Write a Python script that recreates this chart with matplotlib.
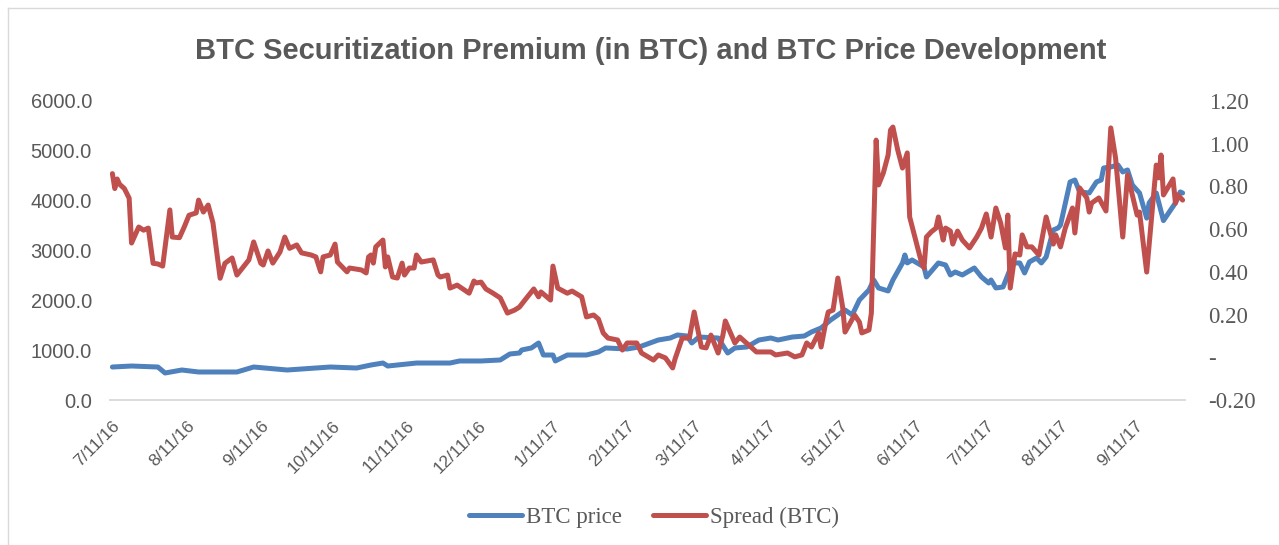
import matplotlib.pyplot as plt
import matplotlib.transforms as mtransforms
from matplotlib.ticker import FuncFormatter, MultipleLocator
import pandas as pd

price_dates = [
    '2016-07-11', '2016-07-19', '2016-07-30', '2016-08-02', '2016-08-09', '2016-08-16',
    '2016-09-01', '2016-09-08', '2016-09-22', '2016-10-10', '2016-10-21', '2016-10-27',
    '2016-11-01', '2016-11-03', '2016-11-15', '2016-11-29', '2016-12-03', '2016-12-12',
    '2016-12-20', '2016-12-24', '2016-12-28', '2016-12-29', '2017-01-02', '2017-01-05',
    '2017-01-07', '2017-01-11', '2017-01-12', '2017-01-17', '2017-01-25', '2017-01-30',
    '2017-02-02', '2017-02-11', '2017-02-16', '2017-02-24', '2017-03-01', '2017-03-04',
    '2017-03-08', '2017-03-10', '2017-03-13', '2017-03-21', '2017-03-25', '2017-03-28',
    '2017-04-02', '2017-04-07', '2017-04-12', '2017-04-15', '2017-04-21', '2017-04-26',
    '2017-04-29', '2017-05-03', '2017-05-07', '2017-05-13', '2017-05-16', '2017-05-19',
    '2017-05-23', '2017-05-25', '2017-05-27', '2017-05-31', '2017-06-02', '2017-06-06',
    '2017-06-07', '2017-06-08', '2017-06-10', '2017-06-15', '2017-06-16', '2017-06-21',
    '2017-06-24', '2017-06-26', '2017-06-28', '2017-07-01', '2017-07-06', '2017-07-09',
    '2017-07-12', '2017-07-13', '2017-07-15', '2017-07-18', '2017-07-22', '2017-07-25',
    '2017-07-27', '2017-07-29', '2017-08-01', '2017-08-03', '2017-08-05', '2017-08-08',
    '2017-08-10', '2017-08-11', '2017-08-15', '2017-08-17', '2017-08-19', '2017-08-23',
    '2017-08-26', '2017-08-28', '2017-08-29', '2017-09-01', '2017-09-04', '2017-09-06',
    '2017-09-08', '2017-09-10', '2017-09-13', '2017-09-16', '2017-09-17', '2017-09-20',
    '2017-09-23', '2017-09-26', '2017-09-28', '2017-09-30', '2017-10-01',
]
btc_price = [
    662, 682, 662, 542, 602, 562,
    562, 662, 602, 662, 642, 702,
    742, 682, 742, 742, 783, 783,
    803, 923, 943, 1004, 1044, 1144,
    903, 903, 783, 903, 903, 963,
    1044, 1024, 1064, 1204, 1244, 1305,
    1284, 1144, 1264, 1244, 943, 1044,
    1064, 1204, 1244, 1204, 1264, 1284,
    1365, 1445, 1606, 1806, 1706, 2007,
    2208, 2408, 2248, 2188, 2408, 2750,
    2910, 2750, 2810, 2669, 2469, 2750,
    2709, 2509, 2569, 2509, 2649, 2469,
    2348, 2408, 2248, 2268, 2750, 2750,
    2549, 2770, 2850, 2750, 2870, 3412,
    3452, 3512, 4375, 4415, 4175, 4154,
    4375, 4415, 4656, 4676, 4716, 4576,
    4616, 4315, 4154, 3650, 3954, 4154,
    3600, 3813, 3954, 4175, 4154,
]

spread_dates = [
    '2016-07-11', '2016-07-12', '2016-07-13', '2016-07-14', '2016-07-16', '2016-07-18',
    '2016-07-19', '2016-07-22', '2016-07-24', '2016-07-26', '2016-07-28', '2016-07-30',
    '2016-08-01', '2016-08-04', '2016-08-05', '2016-08-08', '2016-08-10', '2016-08-12',
    '2016-08-15', '2016-08-16', '2016-08-18', '2016-08-20', '2016-08-22', '2016-08-25',
    '2016-08-27', '2016-08-30', '2016-09-01', '2016-09-06', '2016-09-08', '2016-09-11',
    '2016-09-12', '2016-09-14', '2016-09-16', '2016-09-19', '2016-09-21', '2016-09-23',
    '2016-09-26', '2016-09-28', '2016-10-02', '2016-10-04', '2016-10-06', '2016-10-07',
    '2016-10-10', '2016-10-12', '2016-10-13', '2016-10-17', '2016-10-18', '2016-10-23',
    '2016-10-25', '2016-10-26', '2016-10-27', '2016-10-28', '2016-10-29', '2016-11-01',
    '2016-11-02', '2016-11-03', '2016-11-05', '2016-11-07', '2016-11-09', '2016-11-10',
    '2016-11-12', '2016-11-14', '2016-11-15', '2016-11-17', '2016-11-22', '2016-11-24',
    '2016-11-25', '2016-11-28', '2016-11-29', '2016-12-02', '2016-12-07', '2016-12-09',
    '2016-12-10', '2016-12-12', '2016-12-14', '2016-12-17', '2016-12-20', '2016-12-23',
    '2016-12-26', '2016-12-28', '2016-12-31', '2017-01-03', '2017-01-05', '2017-01-06',
    '2017-01-10', '2017-01-11', '2017-01-13', '2017-01-17', '2017-01-19', '2017-01-23',
    '2017-01-25', '2017-01-28', '2017-01-30', '2017-02-01', '2017-02-03', '2017-02-07',
    '2017-02-09', '2017-02-11', '2017-02-15', '2017-02-17', '2017-02-22', '2017-02-24',
    '2017-02-27', '2017-03-02', '2017-03-03', '2017-03-06', '2017-03-09', '2017-03-11',
    '2017-03-13', '2017-03-14', '2017-03-16', '2017-03-18', '2017-03-21', '2017-03-23',
    '2017-03-24', '2017-03-26', '2017-03-28', '2017-03-30', '2017-04-06', '2017-04-12',
    '2017-04-14', '2017-04-19', '2017-04-22', '2017-04-25', '2017-04-27', '2017-04-29',
    '2017-05-02', '2017-05-03', '2017-05-05', '2017-05-06', '2017-05-08', '2017-05-10',
    '2017-05-12', '2017-05-13', '2017-05-17', '2017-05-19', '2017-05-20', '2017-05-23',
    '2017-05-24', '2017-05-26', '2017-05-27', '2017-05-29', '2017-05-31', '2017-06-01',
    '2017-06-02', '2017-06-04', '2017-06-06', '2017-06-08', '2017-06-09', '2017-06-14',
    '2017-06-15', '2017-06-16', '2017-06-18', '2017-06-20', '2017-06-21', '2017-06-23',
    '2017-06-24', '2017-06-26', '2017-06-27', '2017-06-29', '2017-07-01', '2017-07-04',
    '2017-07-07', '2017-07-09', '2017-07-11', '2017-07-13', '2017-07-15', '2017-07-17',
    '2017-07-19', '2017-07-20', '2017-07-21', '2017-07-23', '2017-07-25', '2017-07-26',
    '2017-07-28', '2017-07-30', '2017-08-02', '2017-08-05', '2017-08-08', '2017-08-09',
    '2017-08-11', '2017-08-13', '2017-08-16', '2017-08-17', '2017-08-19', '2017-08-22',
    '2017-08-23', '2017-08-24', '2017-08-27', '2017-08-30', '2017-09-01', '2017-09-03',
    '2017-09-06', '2017-09-08', '2017-09-12', '2017-09-13', '2017-09-16', '2017-09-20',
    '2017-09-21', '2017-09-22', '2017-09-23', '2017-09-27', '2017-09-28', '2017-09-29',
    '2017-10-01',
]
spread_btc = [
    0.86, 0.79, 0.835, 0.81, 0.79, 0.745,
    0.535, 0.61, 0.595, 0.605, 0.44, 0.437,
    0.427, 0.69, 0.563, 0.56, 0.61, 0.665,
    0.676, 0.736, 0.68, 0.713, 0.63, 0.37,
    0.44, 0.465, 0.385, 0.456, 0.54, 0.44,
    0.432, 0.498, 0.441, 0.493, 0.563, 0.51,
    0.526, 0.489, 0.479, 0.47, 0.40, 0.47,
    0.479, 0.53, 0.446, 0.40, 0.418, 0.409,
    0.395, 0.47, 0.479, 0.441, 0.517, 0.549,
    0.423, 0.47, 0.376, 0.371, 0.441, 0.385,
    0.418, 0.418, 0.479, 0.446, 0.456, 0.385,
    0.376, 0.385, 0.324, 0.338, 0.30, 0.357,
    0.348, 0.352, 0.32, 0.30, 0.278, 0.207,
    0.221, 0.235, 0.278, 0.32, 0.283, 0.306,
    0.268, 0.427, 0.324, 0.30, 0.31, 0.283,
    0.189, 0.198, 0.179, 0.114, 0.09, 0.081,
    0.034, 0.067, 0.067, 0.02, -0.013, 0.011,
    -0.003, -0.05, -0.008, 0.09, 0.09, 0.212,
    0.104, 0.048, 0.044, 0.104, 0.02, 0.104,
    0.17, 0.118, 0.067, 0.095, 0.025, 0.025,
    0.011, 0.02, 0.002, 0.011, 0.067, 0.048,
    0.114, 0.048, 0.165, 0.212, 0.221, 0.371,
    0.235, 0.118, 0.198, 0.165, 0.114, 0.128,
    0.207, 1.017, 0.807, 0.863, 0.947, 1.064,
    1.078, 0.971, 0.886, 0.957, 0.657, 0.441,
    0.418, 0.563, 0.587, 0.605, 0.657, 0.549,
    0.605, 0.591, 0.53, 0.591, 0.549, 0.512,
    0.563, 0.605, 0.671, 0.563, 0.699, 0.629,
    0.512, 0.666, 0.324, 0.484, 0.479, 0.573,
    0.517, 0.517, 0.479, 0.657, 0.53, 0.573,
    0.517, 0.605, 0.699, 0.582, 0.793, 0.746,
    0.68, 0.722, 0.746, 0.685, 1.074, 0.933,
    0.563, 0.854, 0.666, 0.68, 0.399, 0.90,
    0.84, 0.947, 0.76, 0.835, 0.722, 0.76,
    0.736,
]

tick_dates = ['2016-07-11', '2016-08-11', '2016-09-11', '2016-10-11', '2016-11-11',
              '2016-12-11', '2017-01-11', '2017-02-11', '2017-03-11', '2017-04-11',
              '2017-05-11', '2017-06-11', '2017-07-11', '2017-08-11', '2017-09-11']

gray = '#595959'
blue = '#4F81BD'
red = '#C0504D'

W, H = 1279, 545
fig = plt.figure(figsize=(W / 100, H / 100), dpi=100)
ax = fig.add_axes([110 / W, (H - 400) / H, (1185 - 110) / W, 299 / H])
ax2 = ax.twinx()

pd_price = pd.to_datetime(price_dates)
pd_spread = pd.to_datetime(spread_dates)
ticks = pd.to_datetime(tick_dates)

l1, = ax.plot(pd_price, btc_price, color=blue, lw=3.6, solid_capstyle='round',
              solid_joinstyle='round', label='BTC price')
l2, = ax2.plot(pd_spread, spread_btc, color=red, lw=3.6, solid_capstyle='round',
               solid_joinstyle='round', label='Spread (BTC)')

ax.set_xlim(pd.Timestamp('2016-07-10'), pd.Timestamp('2017-10-02'))
ax.set_ylim(0, 6000)
ax2.set_ylim(-0.2, 1.2)
ax.yaxis.set_major_locator(MultipleLocator(1000))
ax2.yaxis.set_major_locator(MultipleLocator(0.2))
ax.yaxis.set_major_formatter(FuncFormatter(lambda v, p: f'{v:.1f}'))
ax2.yaxis.set_major_formatter(FuncFormatter(lambda v, p: '-' if abs(v) < 1e-9 else f'{v:.2f}'))

ax.set_xticks(ticks)
ax.set_xticklabels([f'{d.month}/{d.day}/{d.year % 100}' for d in ticks],
                   rotation=45, ha='right', rotation_mode='anchor',
                   fontsize=12.5, color=gray, family='Liberation Sans')
shift = mtransforms.ScaledTranslation(-4 / 100, 0, fig.dpi_scale_trans)
for t in ax.get_xticklabels():
    t.set_transform(t.get_transform() + shift)

for a in (ax, ax2):
    for s in a.spines.values():
        s.set_visible(False)
    a.tick_params(length=0)
ax.spines['bottom'].set_visible(True)
ax.spines['bottom'].set_color('#d9d9d9')
ax.spines['bottom'].set_linewidth(1.3)

ax.tick_params(axis='y', labelsize=14.5, labelcolor=gray, pad=13)
ax.tick_params(axis='x', pad=13)
for t in ax.get_yticklabels():
    t.set_family('Liberation Sans')
ax2.tick_params(axis='y', labelsize=16.5, labelcolor=gray, pad=17)
for t in ax2.get_yticklabels():
    t.set_family('Liberation Serif')

fig.text(651 / W, 1 - 51 / H, 'BTC Securitization Premium (in BTC) and BTC Price Development',
         ha='center', va='center', fontsize=21, fontweight='bold', color=gray,
         family='Liberation Sans')

fig.legend(handles=[l1, l2], loc='center', bbox_to_anchor=(654 / W, 1 - 517 / H),
           ncol=2, frameon=False, handlelength=2.3, columnspacing=1.4, handletextpad=0.15,
           prop={'family': 'Liberation Serif', 'size': 16.5}, labelcolor=gray)

# chart area border
fig.add_artist(plt.Line2D([8 / W, 8 / W], [0, 1 - 8 / H], color='#d9d9d9', lw=1))
fig.add_artist(plt.Line2D([8 / W, 1], [1 - 8 / H, 1 - 8 / H], color='#d9d9d9', lw=1))

fig.savefig('out.png', dpi=100)
